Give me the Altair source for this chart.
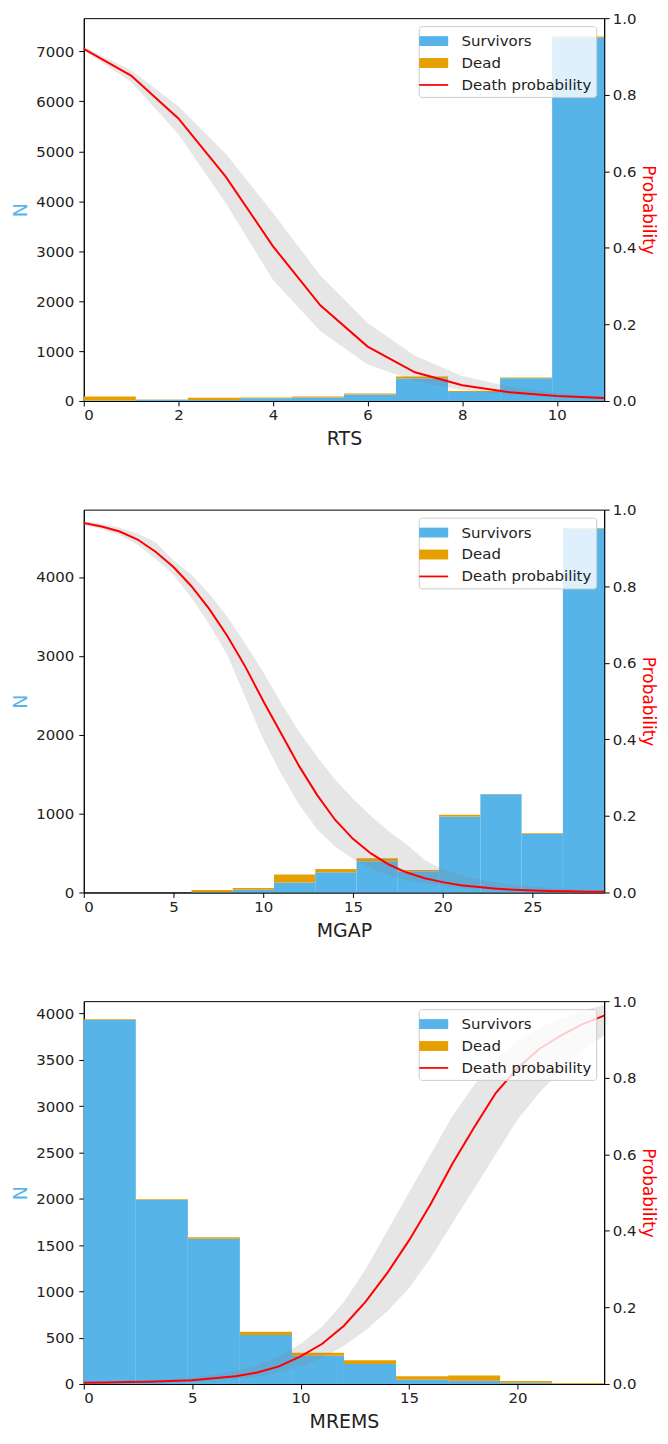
import altair as alt
import pandas as pd

SERIES = ["Survivors", "Dead", "Death probability"]
COLORS = ["#56B4E9", "#E69F00", "#FF0000"]
SHAPES = ["M-1.32,-0.45H1.32V0.45H-1.32Z", "M-1.32,-0.45H1.32V0.45H-1.32Z", "M-1.32,-0.08H1.32V0.08H-1.32Z"]

# ---------------- RTS ----------------
rts_edges = [0.0, 1.1, 2.2, 3.3, 4.4, 5.5, 6.6, 7.7, 8.8, 9.9, 11.0]
rts_surv = [8, 25, 20, 55, 72, 128, 450, 180, 455, 7280]
rts_dead = [82, 5, 45, 15, 18, 22, 42, 20, 15, 20]
rts_x = [0, 1, 2, 3, 4, 5, 6, 7, 8, 9, 10, 11]
rts_p = [0.920, 0.850, 0.738, 0.586, 0.404, 0.250, 0.142, 0.075, 0.041, 0.023, 0.013, 0.008]
rts_lo = [0.915, 0.834, 0.697, 0.517, 0.316, 0.183, 0.095, 0.052, 0.029, 0.017, 0.010, 0.005]
rts_hi = [0.925, 0.864, 0.770, 0.646, 0.491, 0.328, 0.204, 0.118, 0.065, 0.037, 0.020, 0.011]
rts_xticks = [0, 2, 4, 6, 8, 10]
rts_yticks = [0, 1000, 2000, 3000, 4000, 5000, 6000, 7000]

# ---------------- MGAP ----------------
mgap_edges = [6.0, 8.3, 10.6, 12.9, 15.2, 17.5, 19.8, 22.1, 24.4, 26.7, 29.0]
mgap_surv = [6, 35, 128, 255, 395, 268, 962, 1245, 742, 4615]
mgap_dead = [24, 22, 100, 42, 38, 18, 25, 5, 10, 8]
mgap_x = list(range(30))
mgap_p = [0.965, 0.956, 0.943, 0.922, 0.890, 0.850, 0.800, 0.740, 0.670, 0.590,
          0.500, 0.415, 0.330, 0.255, 0.190, 0.140, 0.102, 0.073, 0.052, 0.037,
          0.027, 0.019, 0.014, 0.010, 0.007, 0.005, 0.004, 0.003, 0.002, 0.002]
mgap_lo = [0.960, 0.949, 0.933, 0.908, 0.872, 0.830, 0.770, 0.700, 0.620, 0.510,
           0.400, 0.310, 0.230, 0.165, 0.120, 0.088, 0.063, 0.046, 0.033, 0.024,
           0.018, 0.013, 0.009, 0.007, 0.005, 0.004, 0.003, 0.002, 0.0015, 0.001]
mgap_hi = [0.970, 0.963, 0.953, 0.938, 0.915, 0.868, 0.830, 0.780, 0.720, 0.650,
           0.575, 0.495, 0.420, 0.355, 0.295, 0.245, 0.200, 0.160, 0.125, 0.085,
           0.060, 0.045, 0.034, 0.026, 0.020, 0.015, 0.012, 0.009, 0.007, 0.006]
mgap_xticks = [0, 5, 10, 15, 20, 25]
mgap_yticks = [0, 1000, 2000, 3000, 4000]

# ---------------- MREMS ----------------
mrems_edges = [0.0, 2.4, 4.8, 7.2, 9.6, 12.0, 14.4, 16.8, 19.2, 21.6, 24.0]
mrems_surv = [3928, 1985, 1568, 528, 305, 215, 46, 36, 14, 3]
mrems_dead = [8, 8, 15, 35, 32, 42, 36, 56, 18, 8]
mrems_x = list(range(25))
mrems_p = [0.003, 0.004, 0.005, 0.006, 0.008, 0.010, 0.015, 0.020, 0.030, 0.046,
           0.072, 0.105, 0.152, 0.215, 0.290, 0.375, 0.470, 0.575, 0.670, 0.760,
           0.825, 0.875, 0.910, 0.940, 0.962]
mrems_lo = [0.001, 0.002, 0.003, 0.004, 0.005, 0.006, 0.009, 0.013, 0.019, 0.029,
            0.046, 0.068, 0.100, 0.140, 0.190, 0.250, 0.330, 0.420, 0.510, 0.600,
            0.690, 0.760, 0.820, 0.870, 0.910]
mrems_hi = [0.005, 0.006, 0.008, 0.010, 0.013, 0.017, 0.024, 0.034, 0.050, 0.072,
            0.105, 0.150, 0.215, 0.300, 0.400, 0.500, 0.600, 0.700, 0.780, 0.850,
            0.895, 0.930, 0.955, 0.975, 0.990]
mrems_xticks = [0, 5, 10, 15, 20]
mrems_yticks = [0, 500, 1000, 1500, 2000, 2500, 3000, 3500, 4000]

prob_ticks = [0.0, 0.2, 0.4, 0.6, 0.8, 1.0]

W, H = 522, 384


def panel(edges, surv, dead, xs, p, lo, hi, xticks, yticks, xlabel):
    n = len(surv)
    bars_df = pd.DataFrame({
        "x0": edges[:-1] * 2,
        "x1": edges[1:] * 2,
        "n": surv + dead,
        "series": ["Survivors"] * n + ["Dead"] * n,
        "ord": [0] * n + [1] * n,
    })
    line_df = pd.DataFrame({"x": xs, "p": p, "lo": lo, "hi": hi})
    xmax = edges[-1]
    ymax = max(s + d for s, d in zip(surv, dead)) * 1.05

    xscale = alt.Scale(domain=[0, xmax], nice=False, zero=False)
    xaxis = alt.Axis(values=xticks, title=xlabel, format="d")
    pscale = alt.Scale(domain=[0, 1], nice=False)
    cscale = alt.Scale(domain=SERIES, range=COLORS)
    sscale = alt.Scale(domain=SERIES, range=SHAPES)
    legend = alt.Legend(
        title=None, orient="top-right", offset=8, fillColor="rgba(255,255,255,0.8)",
        strokeColor="#cccccc", cornerRadius=3, padding=4, labelFontSize=15,
        labelFont="DejaVu Sans", labelColor="#222222", symbolSize=484,
        labelOffset=17, rowPadding=3, zindex=1, symbolStrokeWidth=0,
    )

    bars = alt.Chart(bars_df).transform_stack(
        stack="n", as_=["y0", "y1"], groupby=["x0"], sort=[alt.SortField("ord", order="ascending")]
    ).mark_bar(strokeWidth=0).encode(
        x=alt.X("x0:Q", scale=xscale, axis=xaxis),
        x2="x1:Q",
        y=alt.Y("y0:Q", scale=alt.Scale(domain=[0, ymax], nice=False),
                axis=alt.Axis(values=yticks, format="d", title="N", titleColor="#56B4E9", orient="left")),
        y2="y1:Q",
        color=alt.Color("series:N", scale=cscale, legend=legend),
    )

    dummy = alt.Chart(bars_df).transform_filter("false").mark_point(filled=True, opacity=1).encode(
        color=alt.Color("series:N", scale=cscale, legend=legend),
        shape=alt.Shape("series:N", scale=sscale, legend=legend),
    )

    band = alt.Chart(line_df).mark_area(color="gray", opacity=0.2).encode(
        x=alt.X("x:Q", scale=xscale, axis=xaxis),
        y=alt.Y("lo:Q", scale=pscale,
                axis=alt.Axis(values=prob_ticks, format=".1f", title="Probability",
                              titleColor="#FF0000", orient="right")),
        y2="hi:Q",
    )
    line = alt.Chart(line_df).mark_line(color="#FF0000", strokeWidth=2).encode(
        x=alt.X("x:Q", scale=xscale, axis=xaxis),
        y=alt.Y("p:Q", scale=pscale, axis=None),
    )

    return alt.layer(dummy, bars, band, line).resolve_scale(y="independent").properties(
        width=W, height=H
    )


p1 = panel(rts_edges, rts_surv, rts_dead, rts_x, rts_p, rts_lo, rts_hi, rts_xticks, rts_yticks, "RTS")
p2 = panel(mgap_edges, mgap_surv, mgap_dead, mgap_x, mgap_p, mgap_lo, mgap_hi, mgap_xticks, mgap_yticks, "MGAP")
p3 = panel(mrems_edges, mrems_surv, mrems_dead, mrems_x, mrems_p, mrems_lo, mrems_hi, mrems_xticks, mrems_yticks, "MREMS")

chart = alt.vconcat(p1, p2, p3, spacing=52).resolve_scale(
    color="independent", shape="independent"
).properties(
    padding={"left": 3, "top": 0, "right": 2, "bottom": 0}
).configure_view(
    stroke="black", strokeWidth=1
).configure_axis(
    grid=False, domainColor="black", domainWidth=1, tickColor="black", tickSize=5, tickWidth=1,
    labelFont="DejaVu Sans", labelFontSize=15, labelColor="#222222",
    titleFont="DejaVu Sans", titleFontSize=19, titleFontWeight="normal", titleColor="#222222",
).configure_axisLeft(
    labelPadding=5, titlePadding=5
).configure_axisRight(
    labelPadding=3, titlePadding=3, titleFontSize=17
).configure_axisBottom(
    labelPadding=2, titlePadding=7
)

chart.save("out.html", embed_options={"renderer": "svg", "actions": False})
